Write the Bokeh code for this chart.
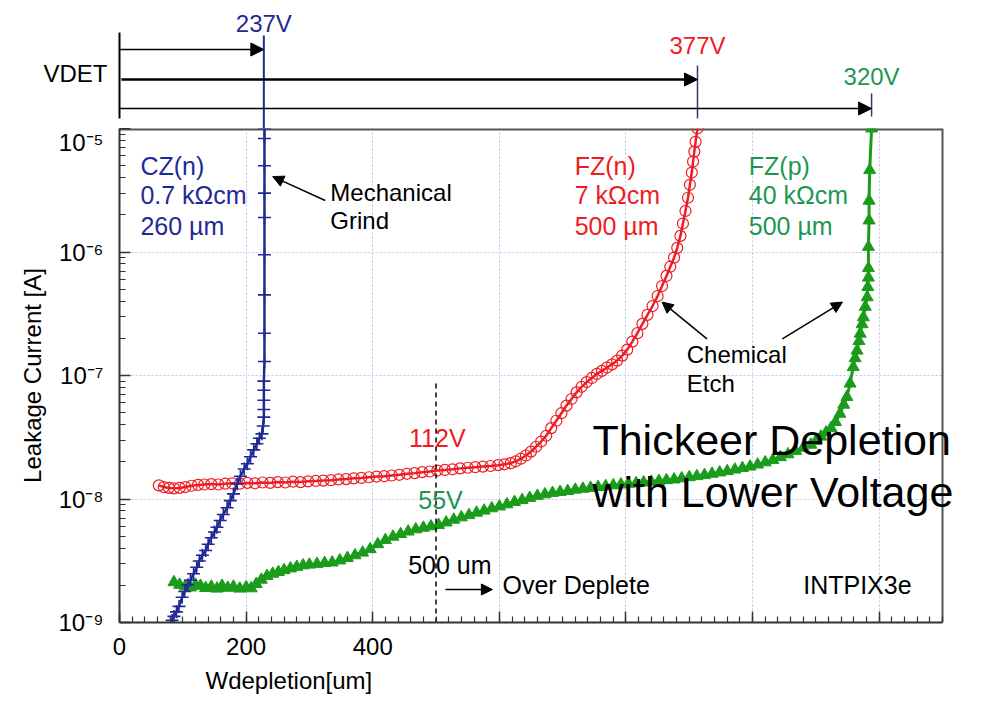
from bokeh.plotting import figure
from bokeh.layouts import column
from bokeh.models import (Range1d, FixedTicker, Label, Arrow, NormalHead,
                          CustomJSTickFormatter, Title)
from bokeh.embed import file_html
from bokeh.resources import INLINE
from bokeh.core.properties import value

FONT = "Liberation Sans"
BLUE = "#1f2a96"
RED = "#ee1c24"
GREEN_TXT = "#1e9650"
GREEN = "#1a9c1a"
FRAME = "#555555"

# ---------------- data ----------------
# CZ(n) 0.7 kOhm cm, 260 um (mechanical grind)
cz_w = [83, 86, 90, 94, 99, 103, 108, 112, 117, 122,
        126, 131, 136, 140, 145, 150, 154, 159, 164, 170,
        175, 180, 186, 191, 197, 202, 207, 212, 217, 221,
        225, 227, 228, 228, 228, 228, 228, 229, 229, 229,
        229, 229, 229, 229, 229, 229]
cz_i = [1.04e-9, 1.12e-9, 1.22e-9, 1.35e-9, 1.60e-9, 1.78e-9, 2.02e-9, 2.20e-9, 2.48e-9, 2.80e-9,
        3.15e-9, 3.50e-9, 3.83e-9, 4.30e-9, 4.85e-9, 5.40e-9, 5.90e-9, 6.70e-9, 7.50e-9, 8.50e-9,
        9.70e-9, 1.10e-8, 1.33e-8, 1.53e-8, 1.75e-8, 1.93e-8, 2.20e-8, 2.50e-8, 2.80e-8, 3.10e-8,
        3.37e-8, 3.90e-8, 4.60e-8, 5.30e-8, 6.30e-8, 7.60e-8, 9.00e-8, 1.30e-7, 2.20e-7, 4.50e-7,
        9.50e-7, 1.90e-6, 3.00e-6, 5.00e-6, 8.30e-6, 1.00e-5]

# FZ(n) 7 kOhm cm, 500 um (chemical etch)
fzn_w = [62, 70, 78, 86, 95, 104, 114, 124, 134, 145,
         156, 167, 178, 190, 202, 214, 226, 238, 250, 262,
         274, 286, 298, 310, 322, 334, 346, 358, 370, 382,
         394, 406, 418, 430, 442, 454, 466, 478, 490, 502,
         514, 526, 538, 550, 562, 574, 586, 598, 608, 618,
         626, 634, 642, 650, 658, 666, 674, 682, 690, 698,
         706, 714, 722, 730, 738, 746, 754, 762, 770, 778,
         786, 794, 802, 810, 818, 826, 834, 842, 850, 857,
         864, 870, 876, 881, 886, 890, 894, 898, 901, 904,
         906, 908, 910, 913]
fzn_i = [1.29e-8, 1.25e-8, 1.23e-8, 1.22e-8, 1.23e-8, 1.25e-8, 1.28e-8, 1.30e-8, 1.31e-8, 1.32e-8,
         1.31e-8, 1.33e-8, 1.34e-8, 1.33e-8, 1.35e-8, 1.34e-8, 1.36e-8, 1.35e-8, 1.37e-8, 1.36e-8,
         1.38e-8, 1.37e-8, 1.39e-8, 1.40e-8, 1.41e-8, 1.42e-8, 1.44e-8, 1.45e-8, 1.47e-8, 1.48e-8,
         1.50e-8, 1.52e-8, 1.53e-8, 1.55e-8, 1.57e-8, 1.60e-8, 1.62e-8, 1.65e-8, 1.67e-8, 1.70e-8,
         1.72e-8, 1.74e-8, 1.77e-8, 1.79e-8, 1.81e-8, 1.83e-8, 1.85e-8, 1.88e-8, 1.91e-8, 1.95e-8,
         2.02e-8, 2.12e-8, 2.25e-8, 2.42e-8, 2.65e-8, 2.92e-8, 3.25e-8, 3.75e-8, 4.30e-8, 4.95e-8,
         5.70e-8, 6.45e-8, 7.30e-8, 8.10e-8, 8.85e-8, 9.55e-8, 1.03e-7, 1.09e-7, 1.16e-7, 1.23e-7,
         1.32e-7, 1.45e-7, 1.62e-7, 1.88e-7, 2.20e-7, 2.62e-7, 3.10e-7, 3.65e-7, 4.40e-7, 5.30e-7,
         6.40e-7, 7.60e-7, 9.00e-7, 1.08e-6, 1.35e-6, 1.70e-6, 2.15e-6, 2.75e-6, 3.50e-6, 4.40e-6,
         5.40e-6, 6.50e-6, 7.80e-6, 1.00e-5]

# FZ(p) 40 kOhm cm, 500 um (chemical etch)
fzp_w = [86, 95, 104, 112, 120, 128, 136, 145, 154, 162,
         171, 180, 190, 200, 208, 216, 224, 233, 242, 251,
         260, 270, 280, 290, 300, 312, 324, 336, 348, 360,
         372, 384, 396, 408, 420, 432, 444, 456, 468, 480,
         492, 504, 516, 528, 540, 552, 564, 576, 588, 600,
         612, 624, 636, 648, 660, 672, 684, 696, 708, 720,
         732, 744, 756, 768, 780, 792, 804, 816, 828, 840,
         852, 864, 876, 888, 900, 912, 924, 936, 948, 960,
         972, 984, 996, 1008, 1020, 1032, 1044, 1056, 1068, 1080,
         1092, 1100, 1108, 1116, 1124, 1131, 1138, 1144, 1149, 1154,
         1159, 1162, 1165, 1168, 1170, 1173, 1175, 1178, 1181, 1182,
         1183, 1183, 1183, 1184, 1184, 1185, 1188]
fzp_i = [2.12e-9, 2.02e-9, 1.96e-9, 1.92e-9, 2.02e-9, 1.98e-9, 1.90e-9, 1.95e-9, 1.88e-9, 1.98e-9,
         1.91e-9, 1.95e-9, 1.88e-9, 1.93e-9, 1.89e-9, 2.05e-9, 2.22e-9, 2.38e-9, 2.48e-9, 2.56e-9,
         2.65e-9, 2.74e-9, 2.82e-9, 2.90e-9, 2.94e-9, 2.98e-9, 3.03e-9, 3.06e-9, 3.18e-9, 3.33e-9,
         3.50e-9, 3.68e-9, 3.92e-9, 4.30e-9, 4.65e-9, 4.95e-9, 5.20e-9, 5.45e-9, 5.68e-9, 5.85e-9,
         6.00e-9, 6.15e-9, 6.45e-9, 6.80e-9, 7.10e-9, 7.40e-9, 7.75e-9, 8.05e-9, 8.40e-9, 8.70e-9,
         9.05e-9, 9.45e-9, 9.80e-9, 1.02e-8, 1.06e-8, 1.09e-8, 1.12e-8, 1.14e-8, 1.16e-8, 1.19e-8,
         1.21e-8, 1.23e-8, 1.25e-8, 1.27e-8, 1.29e-8, 1.31e-8, 1.33e-8, 1.34e-8, 1.36e-8, 1.38e-8,
         1.40e-8, 1.42e-8, 1.44e-8, 1.47e-8, 1.50e-8, 1.53e-8, 1.56e-8, 1.60e-8, 1.64e-8, 1.68e-8,
         1.73e-8, 1.78e-8, 1.83e-8, 1.90e-8, 1.98e-8, 2.07e-8, 2.18e-8, 2.30e-8, 2.45e-8, 2.60e-8,
         2.75e-8, 2.95e-8, 3.20e-8, 3.45e-8, 3.75e-8, 4.20e-8, 4.90e-8, 5.80e-8, 6.70e-8, 8.60e-8,
         1.17e-7, 1.38e-7, 1.59e-7, 1.90e-7, 2.18e-7, 2.60e-7, 2.96e-7, 3.60e-7, 4.30e-7, 5.20e-7,
         6.20e-7, 7.40e-7, 1.10e-6, 1.80e-6, 2.60e-6, 4.60e-6, 1.00e-5]

# full-depletion voltage markers
vdet_title = "VDET"
vdet_labels = ["237V", "377V", "320V"]
vdet_w = [228, 913, 1188]
vdet_colors = [BLUE, RED, GREEN_TXT]

over_deplete_w = 500          # 500 um over-depletion line
over_deplete_top = 8.6e-8

x_ticks = [0, 200, 400, 600, 800, 1000, 1200]
x_tick_labels = ["0", "200", "400", "", "", "", ""]
y_ticks = [1e-9, 1e-8, 1e-7, 1e-6, 1e-5]
y_tick_labels = ["10\u207b\u2079", "10\u207b\u2078", "10\u207b\u2077", "10\u207b\u2076", "10\u207b\u2075"]
x_label = "Wdepletion[um]"
y_label = "Leakage Current [A]"

# ---------------- layout ----------------
W, H = 981, 701
TOP_H = 128
L, R, B = 119, 39, 79
X0, X1 = 0, 1300
Y0, Y1 = 1e-9, 1e-5
scale = (W - L - R) / (X1 - X0)        # px per um inside the drawn box
X1_EXT = X1 + R / scale                # frame runs to the page edge so wide text is not clipped

main = figure(width=W, height=H - TOP_H, x_range=Range1d(X0, X1_EXT), y_range=Range1d(Y0, Y1),
              y_axis_type="log", output_backend="svg", toolbar_location=None,
              min_border_left=L, min_border_right=0, min_border_top=0, min_border_bottom=B,
              background_fill_color="white", border_fill_color="white")
main.outline_line_color = None

minor_x = list(range(X0, X1 + 1, 20))
minor_y = [k * 10.0 ** e for e in range(-9, -5) for k in range(2, 10)]
main.xaxis.ticker = FixedTicker(ticks=x_ticks, minor_ticks=minor_x)
main.yaxis.ticker = FixedTicker(ticks=y_ticks, minor_ticks=minor_y)
main.xaxis.formatter = CustomJSTickFormatter(args=dict(xt=x_ticks, xl=x_tick_labels), code="""
    const i = xt.findIndex(t => Math.abs(t - tick) < 1e-6);
    return i >= 0 ? xl[i] : '';
""")
main.yaxis.formatter = CustomJSTickFormatter(args=dict(yt=y_ticks, yl=y_tick_labels), code="""
    const i = yt.findIndex(t => Math.abs(Math.log10(t) - Math.log10(tick)) < 1e-6);
    return i >= 0 ? yl[i] : '';
""")
main.xaxis.bounds = (X0, X1)
for ax in (main.xaxis, main.yaxis):
    ax.major_tick_in = 11
    ax.major_tick_out = 0
    ax.minor_tick_in = 6
    ax.minor_tick_out = 0
    ax.axis_line_width = 2
    ax.axis_line_color = "#333333"
    ax.major_tick_line_color = "#333333"
    ax.minor_tick_line_color = "#333333"
    ax.major_tick_line_width = 1.5
    ax.minor_tick_line_width = 1.2
    ax.major_label_text_font = FONT
    ax.major_label_text_color = "black"
main.xaxis.major_label_text_font_size = "24px"
main.yaxis.major_label_text_font_size = "24px"
main.xaxis.major_label_standoff = 15
main.yaxis.major_label_standoff = 16
main.yaxis.axis_label = y_label
main.yaxis.axis_label_text_font = FONT
main.yaxis.axis_label_text_font_size = "24px"
main.yaxis.axis_label_text_font_style = "normal"
main.yaxis.axis_label_text_color = "black"
main.yaxis.axis_label_standoff = 10

main.add_layout(Title(text=x_label, align="left", offset=86, standoff=14,
                      text_font=FONT, text_font_size="24px", text_font_style="normal",
                      text_color="black"), "below")

main.xgrid.ticker = FixedTicker(ticks=x_ticks)
main.ygrid.ticker = FixedTicker(ticks=y_ticks)
for g in (main.xgrid, main.ygrid):
    g.grid_line_color = "#c2c2ec"
    g.grid_line_dash = "2 2"
    g.grid_line_width = 1

# white margin right of the box (hides grid lines there), then the box's top and right sides
main.quad(left=[X1], right=[X1_EXT * 1.01], bottom=[Y0], top=[Y1], fill_color="white", line_color=None)
main.segment(x0=[X0, X1], y0=[Y1, Y0], x1=[X1, X1], y1=[Y1, Y1], line_color=FRAME, line_width=[4, 2])

# series
main.line(fzn_w, fzn_i, line_color=RED, line_width=2.5)
main.scatter(fzn_w, fzn_i, marker="circle", size=11, fill_color=None, line_color=RED, line_width=1.2)
main.line(fzp_w, fzp_i, line_color=GREEN, line_width=3)
main.scatter(fzp_w, fzp_i, marker="triangle", size=12, fill_color=GREEN, line_color=GREEN)
main.line(cz_w, cz_i, line_color=BLUE, line_width=2.5)
main.scatter(cz_w, cz_i, marker="cross", size=13, line_color=BLUE, line_width=1.6)

main.segment(x0=[over_deplete_w], y0=[Y0], x1=[over_deplete_w], y1=[over_deplete_top],
             line_color="black", line_width=1.5, line_dash="5 4")


def lab(p, x, y, text, color="black", size=25, align="left", baseline="middle"):
    p.add_layout(Label(x=x, y=y, text=text, text_color=color, text_font=FONT,
                       text_font_size=f"{size}px", text_align=align, text_baseline=baseline))


def arrow(p, xs, ys, xe, ye, width=1.5, size=11):
    p.add_layout(Arrow(end=NormalHead(size=size, fill_color="black", line_color="black"),
                       x_start=xs, y_start=ys, x_end=xe, y_end=ye,
                       line_color="black", line_width=width))


for txt, yy in zip(["CZ(n)", "0.7 k\u03a9cm", "260 \u00b5m"], [5.0e-6, 2.92e-6, 1.61e-6]):
    lab(main, 33, yy, txt, BLUE)
for txt, yy in zip(["FZ(n)", "7 k\u03a9cm", "500 \u00b5m"], [5.0e-6, 2.92e-6, 1.61e-6]):
    lab(main, 719, yy, txt, RED)
for txt, yy in zip(["FZ(p)", "40 k\u03a9cm", "500 \u00b5m"], [5.0e-6, 2.92e-6, 1.61e-6]):
    lab(main, 994, yy, txt, GREEN_TXT)

lab(main, 333, 3.03e-6, "Mechanical", size=24)
lab(main, 333, 1.80e-6, "Grind", size=24)
arrow(main, 325, 2.61e-6, 242, 4.08e-6)

lab(main, 896, 1.48e-7, "Chemical", size=24)
lab(main, 896, 8.6e-8, "Etch", size=24)
arrow(main, 928, 1.98e-7, 857, 3.93e-7)
arrow(main, 1047, 1.98e-7, 1142, 3.93e-7)

lab(main, 502, 3.09e-8, "112V", RED, align="center")
lab(main, 507, 9.9e-9, "55V", GREEN_TXT, align="center")

lab(main, 456, 2.9e-9, "500 um")
arrow(main, 515, 1.85e-9, 589, 1.85e-9)
lab(main, 605, 2.03e-9, "Over Deplete")
lab(main, 1080, 2.03e-9, "INTPIX3e")

lab(main, 747, 2.98e-8, "Thickeer Depletion", size=43)
lab(main, 747, 1.13e-8, "with Lower Voltage", size=43)

# ---------------- VDET header ----------------
top = figure(width=W, height=TOP_H, x_range=main.x_range, y_range=Range1d(TOP_H, 0),
             output_backend="svg", toolbar_location=None,
             min_border_left=L, min_border_right=0, min_border_top=0, min_border_bottom=0,
             x_axis_location=None, y_axis_location="left",
             outline_line_color=None, background_fill_color="white", border_fill_color="white")
top.xgrid.visible = False
top.ygrid.visible = False
top.yaxis.ticker = FixedTicker(ticks=[73])
top.yaxis.formatter = CustomJSTickFormatter(args=dict(t=vdet_title), code="return t;")
top.yaxis.bounds = (32, 118)
top.yaxis.axis_line_color = "black"
top.yaxis.axis_line_width = 2
top.yaxis.major_tick_in = 0
top.yaxis.major_tick_out = 0
top.yaxis.minor_tick_in = 0
top.yaxis.minor_tick_out = 0
top.yaxis.major_label_standoff = 12
top.yaxis.major_label_text_font = FONT
top.yaxis.major_label_text_font_size = "24px"
top.yaxis.major_label_text_color = "black"

arrow(top, X0, 49, vdet_w[0], 49, width=1.5, size=13)
arrow(top, X0 + 3, 79, vdet_w[1], 79, width=2.5, size=13)
arrow(top, X0, 108, vdet_w[2], 108, width=1.5, size=13)
top.segment(x0=vdet_w, y0=[35, 65, 93], x1=vdet_w, y1=[TOP_H, 118, 116],
            line_color=[BLUE, "#2a3a7a", "#2a3a7a"], line_width=[2, 1.5, 1.5])
top.text(x=vdet_w, y=[23, 45, 76], text=vdet_labels, text_color=vdet_colors,
         text_font=value(FONT), text_font_size="24px", text_align="center", text_baseline="middle")

layout = column(top, main, spacing=0)
open("out.html", "w").write(file_html(layout, INLINE))
